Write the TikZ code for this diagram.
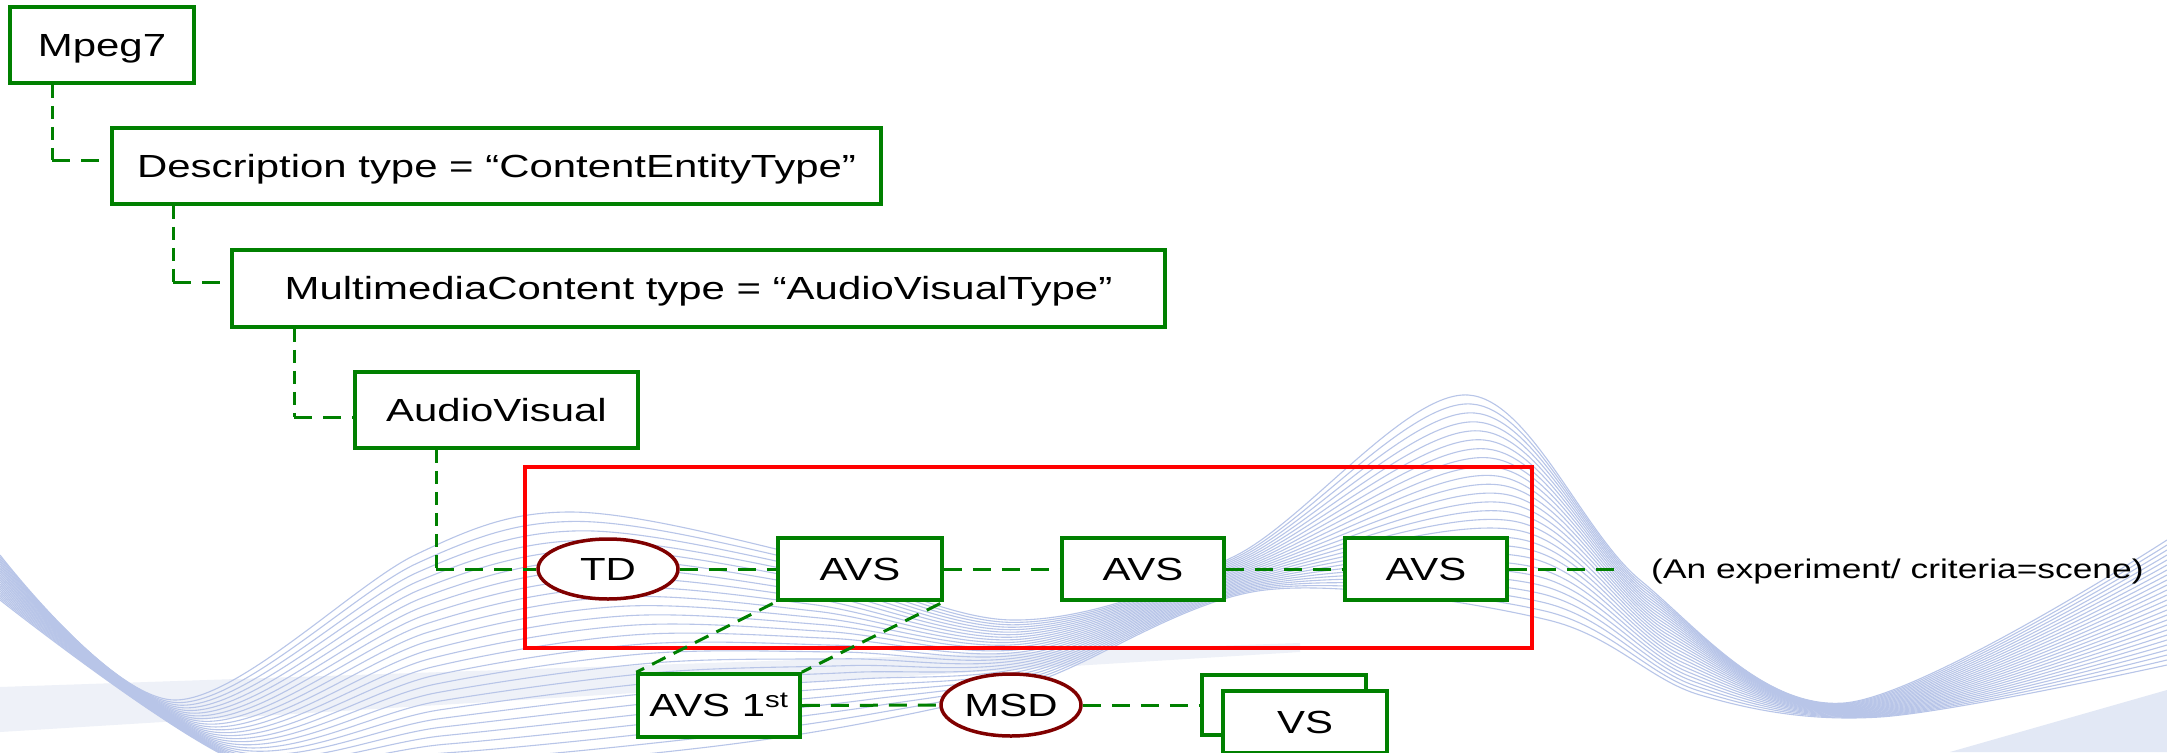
\documentclass[tikz,border=0pt]{standalone}
\usepackage{fontspec}
\setmainfont{Liberation Sans}
\usepackage{graphicx}
\usetikzlibrary{shapes.geometric}
\definecolor{boxgreen}{RGB}{0,128,0}
\definecolor{ovalred}{RGB}{128,0,0}
\definecolor{wavecol}{RGB}{184,197,232}
\definecolor{hazecol}{RGB}{238,241,248}
\definecolor{hazecolb}{RGB}{226,232,245}
% labels are set wide, as in the slide this comes from
\newcommand{\wide}[1]{\scalebox{1.31}[1]{#1}}
\tikzset{
  box/.style={draw=boxgreen, line width=3.5pt, fill=white, inner sep=0pt,
    font=\fontsize{32}{38}\selectfont, text height=22.9pt, text depth=0pt},
  oval/.style={ellipse, draw=ovalred, line width=3.5pt, fill=white, inner sep=0pt,
    font=\fontsize{32}{38}\selectfont, text height=22.9pt, text depth=0pt},
  frame/.style={draw=red, line width=4pt, inner sep=0pt},
  hlink/.style={draw=boxgreen, line width=3pt, dash pattern=on 18pt off 11pt},
  vlink/.style={draw=boxgreen, line width=3pt, dash pattern=on 13pt off 8pt},
  dlink/.style={draw=boxgreen, line width=3pt, dash pattern=on 15pt off 9pt},
  waveline/.style={draw=wavecol, line width=1.1pt},
}
\begin{document}
\begin{tikzpicture}[x=1pt,y=-1pt]
\useasboundingbox (0,0) rectangle (2167,752);
\fill[white] (0,0) rectangle (2167,752);

% background ribbon
\fill[hazecol] (0,687) -- (1300,643) -- (1300,652) -- (0,732) -- cycle;
\fill[hazecolb] (1950,752) -- (2167,690) -- (2167,752) -- cycle;
\foreach \i in {0,...,25}{
  \pgfmathsetmacro{\wt}{\i/25}
  \draw[waveline] plot[smooth,tension=0.55] coordinates {
    (0,{555+45*\wt}) ({175+70*\wt},{700+65*\wt}) ({415+35*\wt},{555+215*\wt})
    ({567+133*\wt},{512+236*\wt}) ({780+100*\wt},{550+170*\wt})
    ({1012+28*\wt},{620+60*\wt}) ({1235+30*\wt},{556+34*\wt})
    ({1468+80*\wt},{395+225*\wt}) ({1640+60*\wt},{580+115*\wt})
    ({1844+36*\wt},{703+14*\wt}) (2167,{540+125*\wt})
  };
}

% selection frame
\node[frame, minimum width=1007pt, minimum height=181pt] (sel) at (1028.5,557.5) {};

% tree nodes
\node[box, minimum width=184pt, minimum height=76pt] (mpeg) at (102,45) {\wide{Mpeg7}};
\node[box, minimum width=769pt, minimum height=76pt] (desc) at (496.5,166) {\wide{Description type = “ContentEntityType”}};
\node[box, minimum width=933pt, minimum height=77pt] (mm) at (698.5,288.5) {\wide{MultimediaContent type = “AudioVisualType”}};
\node[box, minimum width=283pt, minimum height=76pt] (av) at (496.5,410) {\wide{AudioVisual}};

\node[oval, minimum width=140pt, minimum height=60pt] (td) at (608,569) {\wide{TD}};
\node[box, minimum width=164pt, minimum height=62pt] (avs1) at (860,569) {\wide{AVS}};
\node[box, minimum width=162pt, minimum height=62pt] (avs2) at (1143,569) {\wide{AVS}};
\node[box, minimum width=162pt, minimum height=62pt] (avs3) at (1426,569) {\wide{AVS}};
\node[anchor=west, inner sep=0pt, font=\fontsize{27}{32}\selectfont, text height=19.3pt, text depth=0pt] (note) at (1651,569) {\wide{(An experiment/ criteria=scene)}};

\node[box, minimum width=162pt, minimum height=63pt] (avsf) at (719,705.5) {\wide{AVS 1\textsuperscript{st}}};
\node[oval, minimum width=140pt, minimum height=62pt] (msd) at (1011,705) {\wide{MSD}};
\node[box, minimum width=164pt, minimum height=60pt] (vsb) at (1284,705) {};
\node[box, minimum width=164pt, minimum height=62pt] (vsf) at (1305,722) {\wide{VS}};

% elbow connectors of the tree
\coordinate (e1) at (52,160);
\coordinate (e2) at (173,282);
\coordinate (e3) at (294,417);
\coordinate (e4) at (436,569);
\coordinate (tail) at (1620,569);
\draw[vlink] (mpeg.south -| e1) -- (e1);
\draw[hlink] (e1) -- (desc.west |- e1);
\draw[vlink] (desc.south -| e2) -- (e2);
\draw[hlink] (e2) -- (mm.west |- e2);
\draw[vlink] (mm.south -| e3) -- (e3);
\draw[hlink] (e3) -- (av.west |- e3);
\draw[vlink] (av.south -| e4) -- (e4);
\draw[hlink] (e4) -- (td.west);

% scene chain
\draw[hlink] (td.east) -- (avs1.west);
\draw[hlink] (avs1.east) -- (avs2.west);
\draw[hlink] (avs2.east) -- (avs3.west);
\draw[hlink] (avs3.east) -- (tail);

% expansion of the first scene
\draw[dlink, shorten <=4pt] (avs1.south west) -- (avsf.north west);
\draw[dlink, shorten <=4pt] (avs1.south east) -- (avsf.north east);
\draw[hlink] (avsf.east) -- (msd.west);
\draw[hlink] (msd.east) -- (vsb.west);
\end{tikzpicture}
\end{document}
